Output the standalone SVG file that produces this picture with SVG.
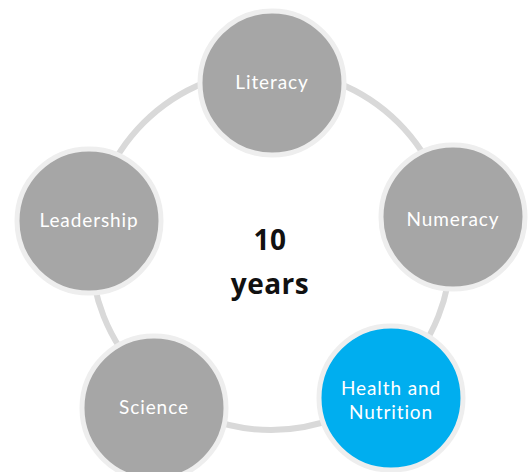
<svg xmlns="http://www.w3.org/2000/svg" width="532" height="472" viewBox="0 0 532 472">
  <style>
    .ring { fill: none; stroke: #d9d9d9; stroke-width: 6; }
    .node circle { fill: #a6a6a6; stroke: #eeeeee; stroke-width: 5; }
    .node.hl circle { fill: #00aeef; }
    .node text { fill: #ffffff; font-family: Lato, "Open Sans", "Liberation Sans", sans-serif; font-size: 19px; text-anchor: middle; letter-spacing: 0.9px; }
    .center { fill: #111111; font-family: "Open Sans", "Liberation Sans", sans-serif; font-weight: bold; font-size: 28px; text-anchor: middle; letter-spacing: 0.5px; }
  </style>
  <rect width="532" height="472" fill="#ffffff"/>

  <!-- connecting ring -->
  <g id="connectors">
    <circle class="ring" cx="271" cy="250" r="180"/>
  </g>

  <!-- centre label -->
  <g id="center-label">
    <text class="center" x="270" y="250">10</text>
    <text class="center" x="270" y="294">years</text>
  </g>

  <g id="literacy" class="node">
    <circle cx="272" cy="83" r="72"/>
    <text x="272" y="89">Literacy</text>
  </g>

  <g id="numeracy" class="node">
    <circle cx="453" cy="217" r="72"/>
    <text x="453" y="226">Numeracy</text>
  </g>

  <g id="health-nutrition" class="node hl">
    <circle cx="391" cy="398" r="72"/>
    <text x="391" y="395">Health and</text>
    <text x="391" y="419">Nutrition</text>
  </g>

  <g id="science" class="node">
    <circle cx="154" cy="408" r="72"/>
    <text x="154" y="414">Science</text>
  </g>

  <g id="leadership" class="node">
    <circle cx="89" cy="221" r="72"/>
    <text x="89" y="227">Leadership</text>
  </g>
</svg>
